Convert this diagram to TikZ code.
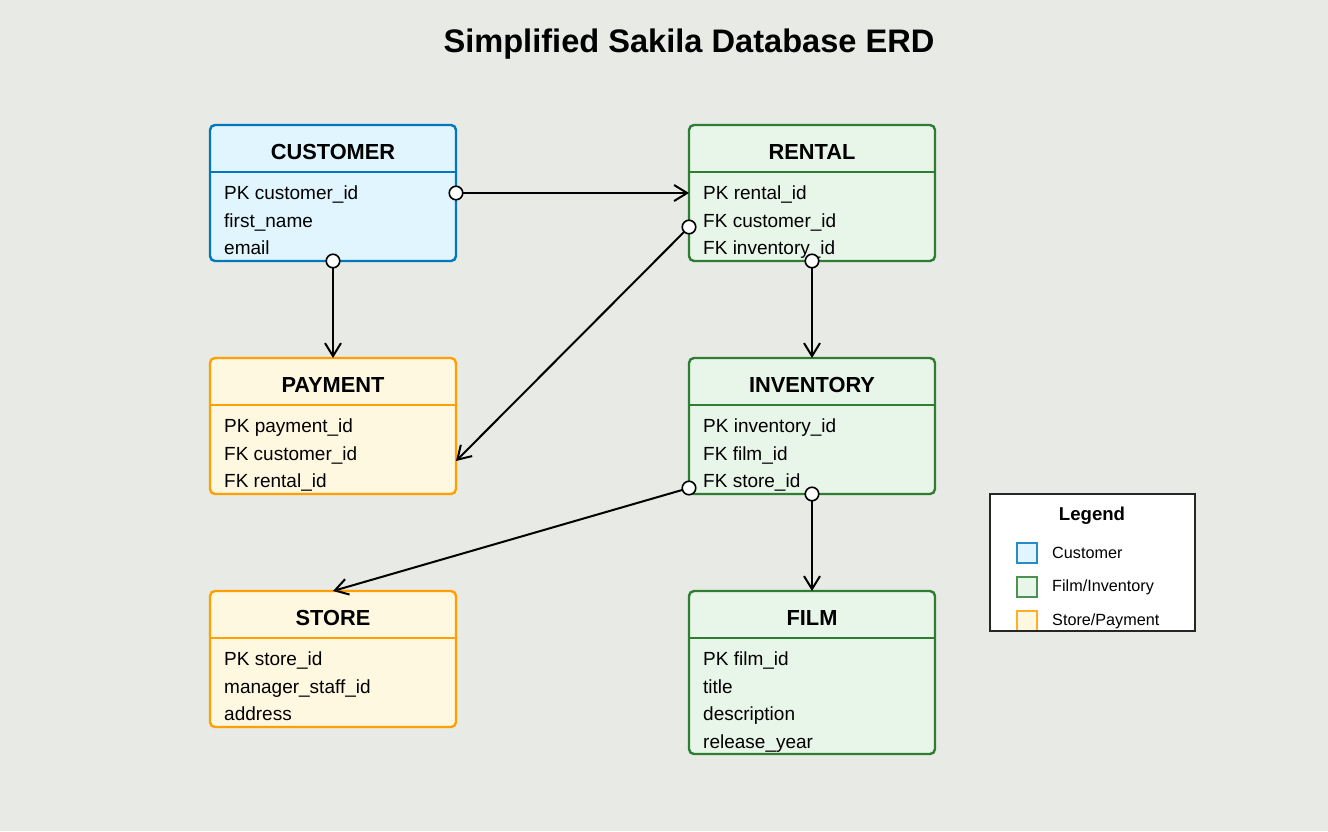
\documentclass[tikz,border=0pt]{standalone}
\usepackage{fontspec}
\setmainfont{Liberation Sans}
\usetikzlibrary{arrows.meta,calc}
\definecolor{bg}{HTML}{E8EAE5}
\definecolor{cstroke}{HTML}{0277BD}
\definecolor{cfill}{HTML}{E1F5FE}
\definecolor{gstroke}{HTML}{2E7D32}
\definecolor{gfill}{HTML}{E8F5E9}
\definecolor{ostroke}{HTML}{FFA000}
\definecolor{ofill}{HTML}{FFF8E1}
\tikzset{
  entbox/.style={rounded corners=5pt, line width=2.4pt, minimum width=246pt, anchor=north west, inner sep=0pt, outer sep=0pt},
  hdr/.style={font=\fontsize{21.8}{24}\selectfont\bfseries, inner sep=0pt},
  rowtxt/.style={font=\fontsize{19}{22}\selectfont, anchor=base west, inner sep=0pt},
  conn/.style={line width=2pt, -{Straight Barb[length=13pt,width=16pt,line width=2pt]}},
  dot/.style={circle, draw=black, fill=white, line width=1.6pt, minimum size=13.5pt, inner sep=0pt},
  legsq/.style={line width=1.4pt, minimum size=20pt, inner sep=0pt, outer sep=0pt, anchor=north west},
  legtxt/.style={font=\fontsize{16.2}{19}\selectfont, anchor=west, inner sep=0pt},
}
\begin{document}
\begin{tikzpicture}[x=1pt,y=-1pt]
\path[fill=bg] (0,0) rectangle (1328,831);
\useasboundingbox (0,0) rectangle (1328,831);

\node[font=\fontsize{32.6}{36}\selectfont\bfseries, inner sep=0pt] (title) at (689,44) {Simplified Sakila Database ERD};

% CUSTOMER
\node[entbox, draw=cstroke, fill=cfill, minimum height=136pt] (cust) at (210,125) {};
\draw[cstroke, line width=2.4pt] (cust.west |- 0,172) -- (cust.east |- 0,172);
\node[hdr] (custh) at (333,152) {CUSTOMER};
\node[rowtxt] (cust1) at (224,199.5) {PK customer\_id};
\node[rowtxt] (cust2) at (224,227) {first\_name};
\node[rowtxt] (cust3) at (224,254.5) {email};

% RENTAL
\node[entbox, draw=gstroke, fill=gfill, minimum height=136pt] (rent) at (689,125) {};
\draw[gstroke, line width=2.4pt] (rent.west |- 0,172) -- (rent.east |- 0,172);
\node[hdr] (renth) at (812,152) {RENTAL};
\node[rowtxt] (rent1) at (703,199.5) {PK rental\_id};
\node[rowtxt] (rent2) at (703,227) {FK customer\_id};
\node[rowtxt] (rent3) at (703,254.5) {FK inventory\_id};

% PAYMENT
\node[entbox, draw=ostroke, fill=ofill, minimum height=136pt] (pay) at (210,358) {};
\draw[ostroke, line width=2.4pt] (pay.west |- 0,405) -- (pay.east |- 0,405);
\node[hdr] (payh) at (333,385) {PAYMENT};
\node[rowtxt] (pay1) at (224,432.5) {PK payment\_id};
\node[rowtxt] (pay2) at (224,460) {FK customer\_id};
\node[rowtxt] (pay3) at (224,487.5) {FK rental\_id};

% INVENTORY
\node[entbox, draw=gstroke, fill=gfill, minimum height=136pt] (inv) at (689,358) {};
\draw[gstroke, line width=2.4pt] (inv.west |- 0,405) -- (inv.east |- 0,405);
\node[hdr] (invh) at (812,385) {INVENTORY};
\node[rowtxt] (inv1) at (703,432.5) {PK inventory\_id};
\node[rowtxt] (inv2) at (703,460) {FK film\_id};
\node[rowtxt] (inv3) at (703,487.5) {FK store\_id};

% STORE
\node[entbox, draw=ostroke, fill=ofill, minimum height=136pt] (store) at (210,591) {};
\draw[ostroke, line width=2.4pt] (store.west |- 0,638) -- (store.east |- 0,638);
\node[hdr] (storeh) at (333,618) {STORE};
\node[rowtxt] (store1) at (224,665.5) {PK store\_id};
\node[rowtxt] (store2) at (224,693) {manager\_staff\_id};
\node[rowtxt] (store3) at (224,720.5) {address};

% FILM
\node[entbox, draw=gstroke, fill=gfill, minimum height=163pt] (film) at (689,591) {};
\draw[gstroke, line width=2.4pt] (film.west |- 0,638) -- (film.east |- 0,638);
\node[hdr] (filmh) at (812,618) {FILM};
\node[rowtxt] (film1) at (703,665.5) {PK film\_id};
\node[rowtxt] (film2) at (703,693) {title};
\node[rowtxt] (film3) at (703,720.5) {description};
\node[rowtxt] (film4) at (703,748) {release\_year};

% connector end points
\coordinate (c-r-s) at (456,193);
\coordinate (c-r-e) at (689,193);
\coordinate (r-p-s) at (689,227);
\coordinate (r-p-e) at (456,461);
\coordinate (c-p-s) at (333,261);
\coordinate (c-p-e) at (333,358);
\coordinate (r-i-s) at (812,261);
\coordinate (r-i-e) at (812,358);
\coordinate (i-s-s) at (689,488);
\coordinate (i-s-e) at (333,591);
\coordinate (i-f-s) at (812,494);
\coordinate (i-f-e) at (812,591);

\draw[conn] (c-r-s) -- (c-r-e);
\draw[conn] (r-p-s) -- (r-p-e);
\draw[conn] (c-p-s) -- (c-p-e);
\draw[conn] (r-i-s) -- (r-i-e);
\draw[conn] (i-s-s) -- (i-s-e);
\draw[conn] (i-f-s) -- (i-f-e);

\node[dot] (d1) at (c-r-s) {};
\node[dot] (d2) at (r-p-s) {};
\node[dot] (d3) at (c-p-s) {};
\node[dot] (d4) at (r-i-s) {};
\node[dot] (d5) at (i-s-s) {};
\node[dot] (d6) at (i-f-s) {};

% Legend
\node[fill=white, minimum width=205pt, minimum height=137pt, anchor=north west, inner sep=0pt, outer sep=0pt] (leg) at (990,494) {};
\node[font=\fontsize{18.6}{22}\selectfont\bfseries, inner sep=0pt] (legt) at (1092,516) {Legend};
\node[legsq, draw=cstroke!85!white, fill=cfill] (sq1) at (1017,543) {};
\node[legsq, draw=gstroke!85!white, fill=gfill] (sq2) at (1017,577) {};
\node[legsq, draw=ostroke!85!white, fill=ofill] (sq3) at (1017,611) {};
\node[legtxt] (lt1) at (1052,553) {Customer};
\node[legtxt] (lt2) at (1052,587) {Film/Inventory};
\node[legtxt] (lt3) at (1052,621) {Store/Payment};
\draw[black!85, line width=1.3pt] (leg.north west) rectangle (leg.south east);
\end{tikzpicture}
\end{document}
